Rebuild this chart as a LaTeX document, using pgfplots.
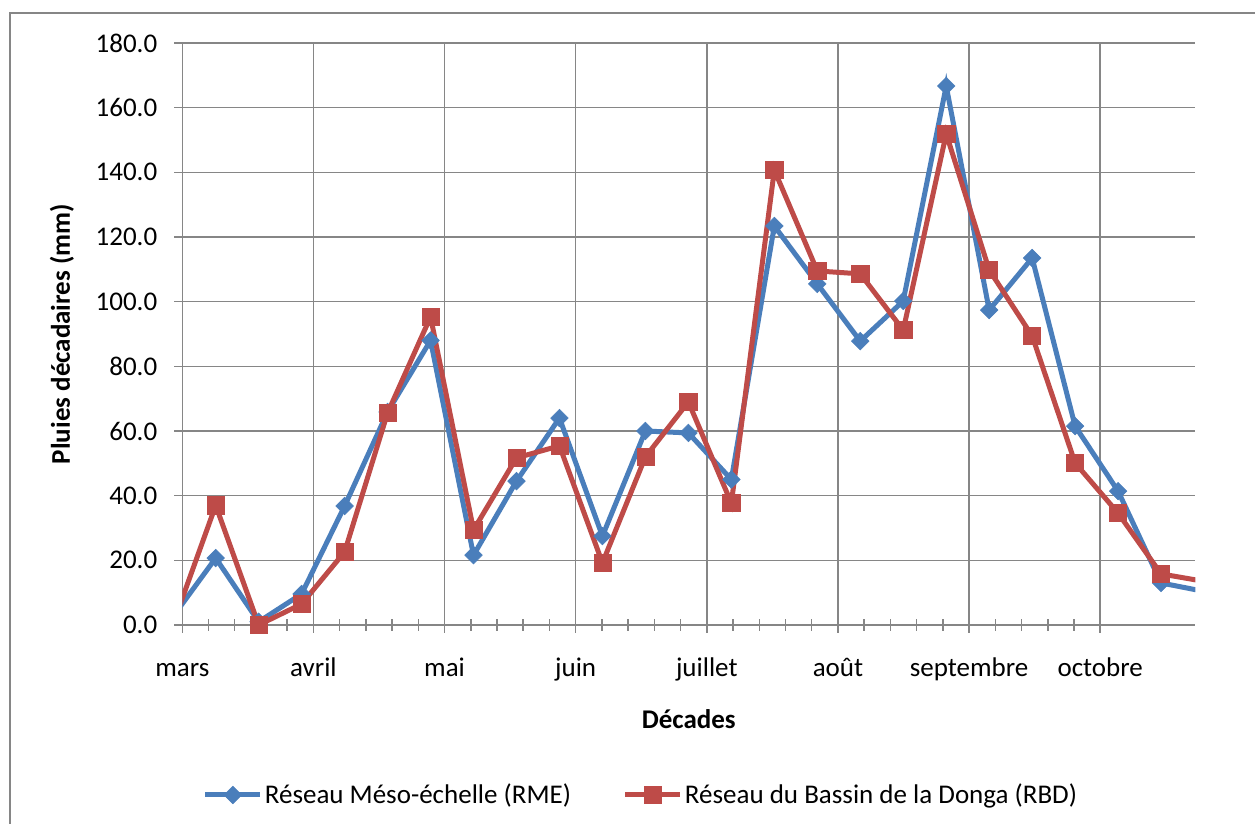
\documentclass[border=0pt]{standalone}
\usepackage{pgfplots}
\pgfplotsset{compat=1.18}
\usepackage{pgfplotstable}
\usepackage{fontspec}
\setmainfont{Carlito}
\definecolor{rmeblue}{HTML}{4A7EBB}
\definecolor{rbdred}{HTML}{BE4B48}
\definecolor{gridgray}{HTML}{868686}

\pgfplotstableread{
x v
-0.0730 2.5
0.2547 20.7
0.5824 1.0
0.9101 9.6
1.2378 36.8
1.5655 65.9
1.8932 88.0
2.2209 21.6
2.5486 44.5
2.8763 64.0
3.2040 27.5
3.5317 60.0
3.8594 59.4
4.1871 45.0
4.5148 123.4
4.8425 105.5
5.1702 87.8
5.4979 100.2
5.8256 166.7
6.1533 97.4
6.4810 113.5
6.8087 61.5
7.1364 41.4
7.4641 13.0
7.7918 10.4
}\rme

\pgfplotstableread{
x v
-0.0730 0.0
0.2547 37.0
0.5824 0.0
0.9101 6.5
1.2378 22.6
1.5655 65.6
1.8932 95.3
2.2209 29.4
2.5486 51.7
2.8763 55.4
3.2040 19.2
3.5317 52.0
3.8594 69.0
4.1871 37.7
4.5148 140.7
4.8425 109.5
5.1702 108.6
5.4979 91.2
5.8256 151.9
6.1533 109.8
6.4810 89.4
6.8087 50.1
7.1364 34.6
7.4641 15.8
7.7918 13.5
}\rbd

\begin{document}
\begin{tikzpicture}[font=\fontsize{13.5}{16.2}\selectfont]
\begin{axis}[
  scale only axis, width=506.5pt, height=291pt,
  at={(0,0)}, anchor=south west,
  xmin=0, xmax=7.725, ymin=0, ymax=180,
  axis x line*=bottom, axis y line*=left,
  axis line style={gridgray, line width=0.75pt},
  xtick={0,...,7},
  xticklabels={mars,avril,mai,juin,juillet,août,septembre,octobre},
  minor x tick num=4,
  ytick={0,20,...,180},
  xmajorgrids, ymajorgrids,
  grid style={gridgray, line width=0.75pt},
  tick align=center,
  major tick length=8pt, minor tick length=6pt,
  tick style={gridgray, line width=0.75pt},
  yticklabel style={xshift=-5pt, /pgf/number format/.cd, fixed, fixed zerofill, precision=1, assume math mode=true},
  xticklabel style={anchor=base, yshift=-22pt},
  xlabel={\bfseries Décades},
  xlabel style={at={(axis description cs:0.5,-0.177)}, anchor=base},
  ylabel={\bfseries Pluies décadaires (mm)},
  ylabel style={at={(axis description cs:-0.1109,0.5)}, anchor=base},
  legend style={at={(0.4528,-0.292)}, anchor=center, legend columns=2,
    draw=none, fill=none, nodes={inner sep=1pt},
    /tikz/every even column/.append style={column sep=25pt}},
  legend cell align=left,
  legend image code/.code={\draw[#1, mark indices={2}] plot coordinates {(0pt,0pt) (13.75pt,0pt) (27.5pt,0pt)};},
]
\addplot[rmeblue, line width=2.5pt, mark=square*, mark size=3.1pt,
  mark options={rotate=45, solid, line width=0.3pt},
  mark indices={1,2,3,4,5,6,7,8,9,10,11,12,13,14,15,16,17,18,19,20,21,22,23}]
  table[x=x, y=v] {\rme};
\addlegendentry{Réseau Méso-échelle (RME)}
\addplot[rbdred, line width=2.5pt, mark=square*, mark size=4.3pt,
  mark options={solid, line width=0.3pt},
  mark indices={1,2,3,4,5,6,7,8,9,10,11,12,13,14,15,16,17,18,19,20,21,22,23}]
  table[x=x, y=v] {\rbd};
\addlegendentry{Réseau du Bassin de la Donga (RBD)}
\end{axis}
\pgfresetboundingbox
\useasboundingbox (-91.15pt,-99.5pt) rectangle (536.35pt,312.5pt);
\draw[gridgray, line width=1.25pt] (-86.15pt,-130pt) -- (-86.15pt,306pt) -- (580pt,306pt);
\end{tikzpicture}
\end{document}
